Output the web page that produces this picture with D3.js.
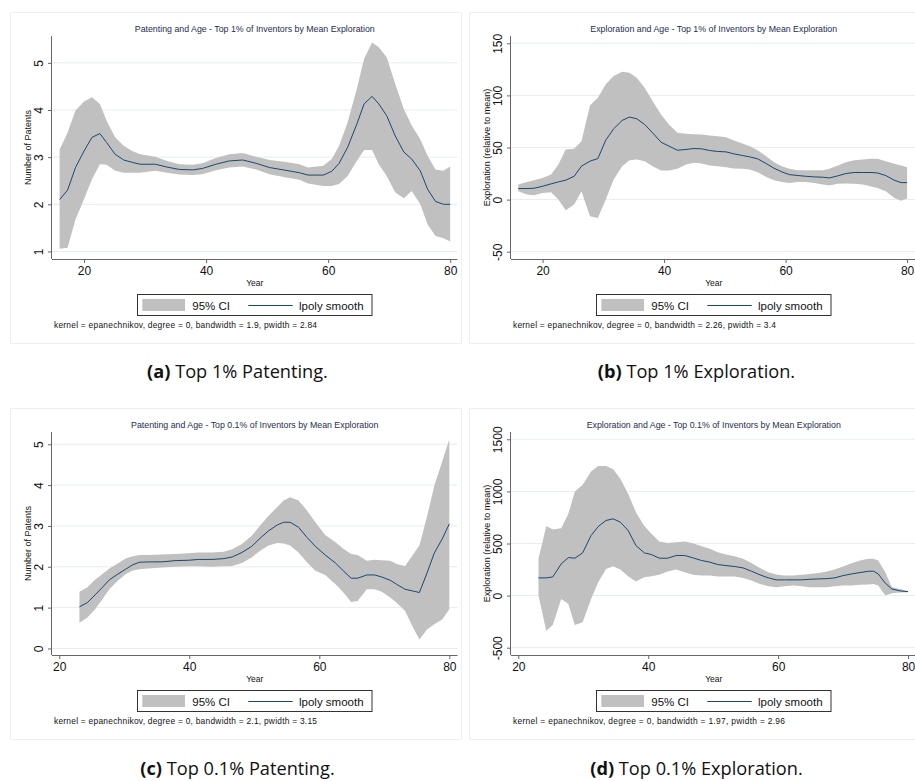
<!DOCTYPE html>
<html>
<head>
<meta charset="utf-8">
<script src="https://cdn.jsdelivr.net/npm/d3@7"></script>
<style>
  body { margin: 0; background: #fff; }
  svg text { font-family: "Liberation Sans", Arial, Helvetica, sans-serif; }
  .cap { font-family: "Open Sans", "Noto Sans", sans-serif !important; }
</style>
</head>
<body>
<svg id="fig" width="915" height="781"></svg>
<script>
const xTicks = [20, 40, 60, 80];

// (a) patenting, top 1%
const aAge  = [16, 17.3, 18.6, 20.0, 21.3, 22.6, 23.7, 25.1, 26.5, 27.9, 29.2, 31.7, 33.6, 35.6, 37.8, 39.4, 41.6, 43.8, 46.0, 48.2, 50.4, 53.1, 55.3, 56.7, 59.2, 60.6, 61.8, 63.2, 64.7, 65.9, 67.2, 68.3, 69.6, 71.0, 72.4, 73.7, 75.1, 76.3, 77.6, 78.9, 80];
const aMean = [2.10, 2.30, 2.78, 3.13, 3.42, 3.50, 3.31, 3.06, 2.94, 2.89, 2.85, 2.85, 2.79, 2.74, 2.73, 2.76, 2.85, 2.92, 2.94, 2.87, 2.78, 2.72, 2.67, 2.62, 2.62, 2.70, 2.87, 3.21, 3.70, 4.13, 4.29, 4.13, 3.88, 3.45, 3.11, 2.96, 2.71, 2.32, 2.06, 2.00, 2.00];
const aHi   = [3.16, 3.52, 3.99, 4.18, 4.27, 4.13, 3.77, 3.42, 3.24, 3.13, 3.06, 3.01, 2.92, 2.85, 2.84, 2.87, 2.98, 3.06, 3.09, 3.01, 2.94, 2.90, 2.85, 2.78, 2.82, 2.96, 3.24, 3.74, 4.45, 5.09, 5.43, 5.33, 5.12, 4.55, 4.02, 3.67, 3.38, 3.03, 2.74, 2.71, 2.80];
const aLo   = [1.06, 1.08, 1.68, 2.11, 2.53, 2.85, 2.84, 2.71, 2.67, 2.67, 2.67, 2.71, 2.67, 2.63, 2.62, 2.64, 2.72, 2.78, 2.80, 2.74, 2.64, 2.57, 2.52, 2.44, 2.39, 2.39, 2.43, 2.60, 2.92, 3.15, 3.15, 2.85, 2.60, 2.25, 2.13, 2.28, 2.00, 1.57, 1.33, 1.28, 1.21];
const aYTicks = [1, 2, 3, 4, 5];

// (b) exploration, top 1%
const bAge  = [16, 17.4, 18.6, 20.0, 21.4, 22.6, 23.8, 25.2, 26.4, 27.8, 29.1, 30.4, 31.7, 33.1, 34.3, 35.5, 36.8, 38.1, 39.5, 40.8, 42.2, 43.6, 44.9, 46.2, 47.5, 48.8, 50.2, 51.5, 52.9, 54.1, 55.4, 56.8, 58.1, 59.4, 60.6, 62.0, 63.3, 64.7, 66.1, 67.2, 68.6, 69.9, 71.3, 72.7, 73.9, 75.1, 76.5, 77.9, 79.0, 80];
const bMean = [10.6, 10.6, 10.9, 12.8, 15.1, 17.0, 18.6, 22.4, 32.1, 36.9, 39.4, 57.1, 67.9, 76.0, 79.2, 77.6, 72.1, 64.1, 55.1, 51.3, 47.4, 48.1, 49.0, 48.7, 47.1, 46.2, 45.8, 43.9, 42.3, 41.0, 39.1, 34.6, 30.1, 26.6, 24.0, 23.1, 22.4, 21.8, 21.5, 20.8, 22.8, 25.0, 26.0, 26.0, 26.0, 25.6, 23.1, 18.6, 16.3, 16.3];
const bHi   = [14.4, 17.0, 18.6, 20.8, 24.0, 33.7, 48.1, 48.7, 56.1, 90.4, 97.8, 110.6, 118.6, 122.8, 121.8, 117.0, 107.4, 94.6, 81.7, 72.1, 64.1, 63.1, 62.8, 62.5, 61.5, 60.9, 59.9, 56.7, 53.8, 51.3, 47.4, 41.7, 35.9, 32.1, 29.5, 28.2, 28.2, 28.2, 28.2, 29.5, 32.7, 35.9, 37.8, 38.5, 39.1, 39.1, 36.9, 34.3, 32.7, 31.1];
const bLo   = [8.0, 4.8, 4.2, 6.4, 7.1, 0, -10.3, -4.8, 8.0, -16.0, -17.6, 0, 19.2, 32.1, 37.8, 38.5, 36.9, 32.1, 27.9, 27.9, 29.5, 33.7, 35.3, 34.6, 32.7, 32.1, 31.1, 29.8, 29.5, 28.8, 26.3, 21.8, 18.6, 17.0, 16.0, 17.0, 17.0, 16.0, 14.4, 13.5, 15.1, 15.4, 15.1, 14.4, 12.8, 11.2, 8.0, 1.6, -1.0, 1.0];
const bYTicks = [-50, 0, 50, 100, 150];

// (c) patenting, top 0.1%
const cAge  = [23.1, 24.3, 25.5, 26.6, 27.7, 29.0, 30.2, 31.2, 32.3, 33.7, 35.8, 37.8, 39.9, 41.4, 43.5, 45.3, 46.6, 48.1, 49.6, 50.9, 52.2, 53.5, 54.5, 55.5, 56.8, 58.1, 59.4, 60.9, 62.5, 63.7, 64.9, 65.9, 67.3, 68.5, 69.6, 70.9, 71.9, 73.2, 74.3, 75.4, 76.6, 77.7, 78.9, 80];
const cMean = [1.02, 1.12, 1.31, 1.49, 1.68, 1.82, 1.94, 2.04, 2.11, 2.12, 2.12, 2.15, 2.16, 2.18, 2.18, 2.20, 2.24, 2.35, 2.50, 2.70, 2.88, 3.02, 3.09, 3.09, 2.97, 2.72, 2.50, 2.29, 2.09, 1.90, 1.72, 1.72, 1.80, 1.80, 1.75, 1.67, 1.57, 1.45, 1.41, 1.37, 1.86, 2.34, 2.68, 3.05];
const cHi   = [1.39, 1.49, 1.68, 1.82, 1.96, 2.08, 2.20, 2.25, 2.29, 2.29, 2.30, 2.31, 2.33, 2.35, 2.35, 2.37, 2.43, 2.56, 2.76, 3.01, 3.25, 3.46, 3.62, 3.70, 3.62, 3.38, 3.09, 2.78, 2.60, 2.44, 2.31, 2.29, 2.15, 2.17, 2.16, 2.15, 2.07, 2.02, 2.27, 2.52, 3.25, 3.99, 4.57, 5.12];
const cLo   = [0.63, 0.75, 0.96, 1.20, 1.45, 1.66, 1.82, 1.90, 1.94, 1.96, 1.98, 2.00, 2.01, 2.01, 2.00, 2.01, 2.02, 2.09, 2.23, 2.39, 2.52, 2.58, 2.57, 2.52, 2.35, 2.11, 1.90, 1.80, 1.57, 1.37, 1.14, 1.16, 1.45, 1.45, 1.39, 1.25, 1.12, 0.92, 0.55, 0.22, 0.47, 0.59, 0.71, 0.96];
const cYTicks = [0, 1, 2, 3, 4, 5];

// (d) exploration, top 0.1%
const dAge  = [23.1, 24.3, 25.3, 26.6, 27.7, 28.7, 29.9, 31.2, 32.3, 33.5, 34.6, 35.7, 36.9, 38.1, 39.4, 40.5, 41.7, 43.0, 44.3, 45.6, 46.9, 48.2, 49.5, 50.7, 52.0, 53.3, 54.6, 55.9, 57.2, 58.5, 59.7, 61.0, 62.3, 63.6, 64.9, 66.2, 67.5, 68.7, 70.0, 71.3, 72.6, 73.9, 74.7, 75.4, 76.5, 77.5, 78.8, 80];
const dMean = [170, 170, 179, 304, 365, 359, 410, 577, 663, 721, 737, 705, 625, 481, 410, 394, 359, 359, 385, 385, 362, 337, 321, 298, 288, 279, 266, 234, 199, 170, 151, 151, 151, 151, 157, 160, 163, 170, 192, 208, 221, 234, 234, 208, 119, 64, 45, 38];
const dHi   = [353, 667, 635, 647, 785, 1000, 1064, 1192, 1244, 1244, 1212, 1122, 978, 801, 667, 593, 519, 506, 513, 519, 503, 474, 449, 417, 394, 378, 353, 314, 266, 224, 202, 192, 192, 199, 208, 218, 231, 250, 279, 311, 337, 353, 353, 337, 224, 80, 64, 42];
const dLo   = [0, -337, -282, -32, -80, -282, -256, -32, 128, 256, 282, 250, 186, 135, 176, 186, 199, 231, 250, 224, 199, 192, 192, 183, 183, 183, 170, 144, 112, 90, 80, 90, 96, 90, 80, 80, 80, 90, 96, 96, 103, 106, 112, 96, 0, 22, 29, 32];
const dYTicks = [-500, 0, 500, 1000, 1500];

const panels = [
  { tag: "(a)", caption: " Top 1% Patenting.", title: "Patenting and Age - Top 1% of Inventors by Mean Exploration",
    ytitle: "Number of Patents", note: "kernel = epanechnikov, degree = 0, bandwidth = 1.9, pwidth = 2.84", noteW: 263,
    age: aAge, mean: aMean, hi: aHi, lo: aLo, yTicks: aYTicks, xDom: [14.75, 81.2], yDom: [0.84, 5.57], dx: 0, dy: 0 },
  { tag: "(b)", caption: " Top 1% Exploration.", title: "Exploration and Age - Top 1% of Inventors by Mean Exploration",
    ytitle: "Exploration (relative to mean)", note: "kernel = epanechnikov, degree = 0, bandwidth = 2.26, pwidth = 3.4", noteW: 263,
    age: bAge, mean: bMean, hi: bHi, lo: bLo, yTicks: bYTicks, xDom: [14.8, 81.55], yDom: [-57, 157], dx: 459, dy: 0 },
  { tag: "(c)", caption: " Top 0.1% Patenting.", title: "Patenting and Age - Top 0.1% of Inventors by Mean Exploration",
    ytitle: "Number of Patents", note: "kernel = epanechnikov, degree = 0, bandwidth = 2.1, pwidth = 3.15", noteW: 263,
    age: cAge, mean: cMean, hi: cHi, lo: cLo, yTicks: cYTicks, xDom: [18.88, 81.26], yDom: [-0.16, 5.30], dx: 0, dy: 396 },
  { tag: "(d)", caption: " Top 0.1% Exploration.", title: "Exploration and Age - Top 0.1% of Inventors by Mean Exploration",
    ytitle: "Exploration (relative to mean)", note: "kernel = epanechnikov, degree = 0, bandwidth = 1.97, pwidth = 2.96", noteW: 272,
    age: dAge, mean: dMean, hi: dHi, lo: dLo, yTicks: dYTicks, xDom: [18.87, 81.3], yDom: [-570, 1570], dx: 459, dy: 396 }
];

const svg = d3.select("#fig");
const plot = { left: 52, right: 457.5, top: 36, bottom: 259 };
const navy = "#1a476f";

panels.forEach(function (p) {
  const g = svg.append("g").attr("transform", `translate(${p.dx},${p.dy})`);

  // faint graph region border
  g.append("rect").attr("x", 10.5).attr("y", 12.5).attr("width", 451).attr("height", 331)
    .attr("fill", "#fff").attr("stroke", "#eef0f0");

  const x = d3.scaleLinear().domain(p.xDom).range([plot.left, plot.right]);
  const y = d3.scaleLinear().domain(p.yDom).range([plot.bottom, plot.top]);

  // gridlines
  g.append("g").selectAll("line").data(p.yTicks).enter().append("line")
    .attr("x1", plot.left).attr("x2", plot.right)
    .attr("y1", d => y(d)).attr("y2", d => y(d))
    .attr("stroke", "#e5eded").attr("stroke-width", 1);

  const idx = d3.range(p.age.length);
  const band = d3.area()
    .x(i => x(p.age[i]))
    .y0(i => y(p.lo[i]))
    .y1(i => y(p.hi[i]));
  g.append("path").datum(idx).attr("d", band).attr("fill", "#c0c0c0");

  const line = d3.line().x(i => x(p.age[i])).y(i => y(p.mean[i]));
  g.append("path").datum(idx).attr("d", line)
    .attr("fill", "none").attr("stroke", navy).attr("stroke-width", 1);

  // axes
  const xAxis = g.append("g").attr("transform", `translate(0,${plot.bottom})`)
    .call(d3.axisBottom(x).tickValues(xTicks).tickSize(4).tickPadding(3));
  xAxis.select(".domain").attr("d", `M${plot.left},0.5H${plot.right}`).attr("stroke", "#666");
  xAxis.selectAll(".tick line").attr("stroke", "#666");
  xAxis.selectAll("text").attr("font-size", 12).attr("fill", "#111");

  const yAxis = g.append("g").attr("transform", `translate(${plot.left},0)`)
    .call(d3.axisLeft(y).tickValues(p.yTicks).tickSize(4).tickFormat(d => String(d)));
  yAxis.select(".domain").attr("d", `M-0.5,${plot.top}V${plot.bottom}`).attr("stroke", "#666");
  yAxis.selectAll(".tick line").attr("stroke", "#666");
  yAxis.selectAll("text")
    .attr("x", null).attr("dy", null)
    .attr("text-anchor", "middle")
    .attr("transform", "translate(-9,0) rotate(-90)")
    .attr("font-size", 12).attr("fill", "#111");

  // titles
  g.append("text").attr("x", (plot.left + plot.right) / 2).attr("y", 32)
    .attr("text-anchor", "middle").attr("font-size", 8.8).attr("fill", "#1e2e4e").text(p.title);
  g.append("text").attr("transform", `translate(${plot.left - 21},${(plot.top + plot.bottom) / 2}) rotate(-90)`)
    .attr("text-anchor", "middle").attr("font-size", 9).attr("fill", "#111").text(p.ytitle);
  g.append("text").attr("x", (plot.left + plot.right) / 2).attr("y", 286)
    .attr("text-anchor", "middle").attr("font-size", 8.5).attr("fill", "#111").text("Year");

  // legend
  const lg = g.append("g");
  lg.append("rect").attr("x", 137.5).attr("y", 294.5).attr("width", 234.5).attr("height", 21)
    .attr("fill", "#fff").attr("stroke", "#333");
  lg.append("rect").attr("x", 142.3).attr("y", 299).attr("width", 42.7).attr("height", 12).attr("fill", "#c0c0c0");
  lg.append("text").attr("x", 192.3).attr("y", 309.5).attr("font-size", 11.5).attr("fill", "#111").text("95% CI");
  lg.append("line").attr("x1", 248.3).attr("x2", 292.7).attr("y1", 305.5).attr("y2", 305.5)
    .attr("stroke", navy).attr("stroke-width", 1);
  lg.append("text").attr("x", 299).attr("y", 309.5).attr("font-size", 11.5).attr("fill", "#111").text("lpoly smooth");

  g.append("text").attr("x", 54).attr("y", 328).attr("font-size", 8.4)
    .attr("textLength", p.noteW).attr("lengthAdjust", "spacing")
    .attr("fill", "#111").text(p.note);

  // subfigure caption
  const cap = g.append("text").attr("class", "cap").attr("x", 237.5).attr("y", p.dy ? 379 : 378)
    .attr("text-anchor", "middle").attr("font-size", 18.2).attr("fill", "#111");
  cap.append("tspan").attr("class", "cap").attr("font-weight", "bold").text(p.tag);
  cap.append("tspan").attr("class", "cap").text(p.caption);
});
</script>
</body>
</html>
